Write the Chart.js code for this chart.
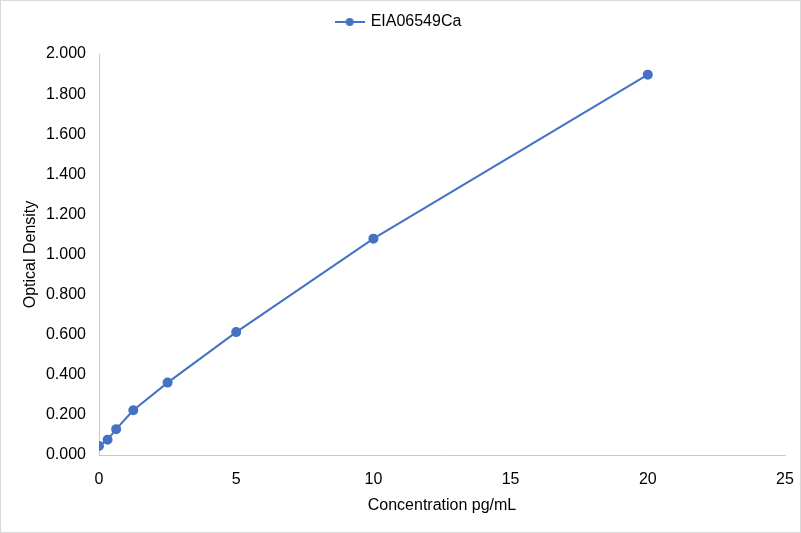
<!DOCTYPE html>
<html>
<head>
<meta charset="utf-8">
<script src="https://cdn.jsdelivr.net/npm/chart.js@4/dist/chart.umd.min.js"></script>
<style>
  html, body { margin: 0; padding: 0; background: #fff; }
  #wrap { width: 801px; height: 533px; box-sizing: border-box; border: 1px solid #d9d9d9; }
  canvas { display: block; }
</style>
</head>
<body>
<div id="wrap"><canvas id="c" width="799" height="531"></canvas></div>
<script>
// standard curve
const concentration = [0, 0.3125, 0.625, 1.25, 2.5, 5, 10, 20];
const density = [0.045, 0.076, 0.129, 0.223, 0.361, 0.613, 1.079, 1.897];
const seriesName = "EIA06549Ca";
const xTitle = "Concentration pg/mL";
const yTitle = "Optical Density";

const blue = "#4472C4";
const axisGray = "#c8c8c8";
const font = { family: "Liberation Sans, Arial, sans-serif", size: 16 };

let points = concentration.map((x, i) => ({ x: x, y: density[i] }));

// legend marker: line with a dot in the middle
let marker = document.createElement("canvas");
marker.width = 30;
marker.height = 10;
let mctx = marker.getContext("2d");
mctx.strokeStyle = blue;
mctx.fillStyle = blue;
mctx.lineWidth = 2;
mctx.beginPath();
mctx.moveTo(0, 5);
mctx.lineTo(30, 5);
mctx.stroke();
mctx.beginPath();
mctx.arc(15, 5, 4, 0, Math.PI * 2);
mctx.fill();

// push the plot down a bit under the legend
const legendSpace = {
    id: "legendSpace",
    beforeInit(chart) {
        let fit = chart.legend.fit;
        chart.legend.fit = function() {
            fit.bind(chart.legend)();
            this.height += 14;
        };
    }
};

new Chart(document.getElementById("c").getContext("2d"), {
    type: "scatter",
    data: {
        datasets: [{
            label: seriesName,
            data: points,
            showLine: true,
            borderColor: blue,
            backgroundColor: blue,
            borderWidth: 2,
            pointRadius: 4,
            pointHoverRadius: 4
        }]
    },
    plugins: [legendSpace],
    options: {
        responsive: false,
        animation: false,
        layout: { padding: { left: 12, right: 15, top: 0, bottom: 14 } },
        plugins: {
            tooltip: { enabled: false },
            legend: {
                position: "top",
                labels: {
                    usePointStyle: true,
                    pointStyleWidth: 26,
                    color: "#000",
                    font: font,
                    padding: 13,
                    generateLabels(chart) {
                        return [{
                            text: chart.data.datasets[0].label,
                            pointStyle: marker,
                            strokeStyle: blue,
                            fillStyle: blue,
                            datasetIndex: 0
                        }];
                    }
                }
            }
        },
        scales: {
            x: {
                type: "linear",
                min: 0,
                max: 25,
                ticks: { stepSize: 5, color: "#000", font: font, padding: 15 },
                grid: { display: false, drawTicks: false },
                border: { display: true, color: axisGray, width: 1 },
                title: { display: true, text: xTitle, color: "#000", font: font, padding: { top: 0, bottom: 3 } },
                afterFit(scale) {
                    scale.height = 63;
                    scale.paddingLeft = 0;
                    scale.paddingRight = 0;
                }
            },
            y: {
                min: 0,
                max: 2,
                ticks: {
                    stepSize: 0.2,
                    color: "#000",
                    font: font,
                    padding: 13,
                    callback: v => v.toFixed(3)
                },
                grid: { display: false, drawTicks: false },
                border: { display: true, color: axisGray, width: 1 },
                title: { display: true, text: yTitle, color: "#000", font: font, padding: { top: 8, bottom: 4 } },
                afterFit(scale) { scale.width = 86; }
            }
        }
    }
});
</script>
</body>
</html>
